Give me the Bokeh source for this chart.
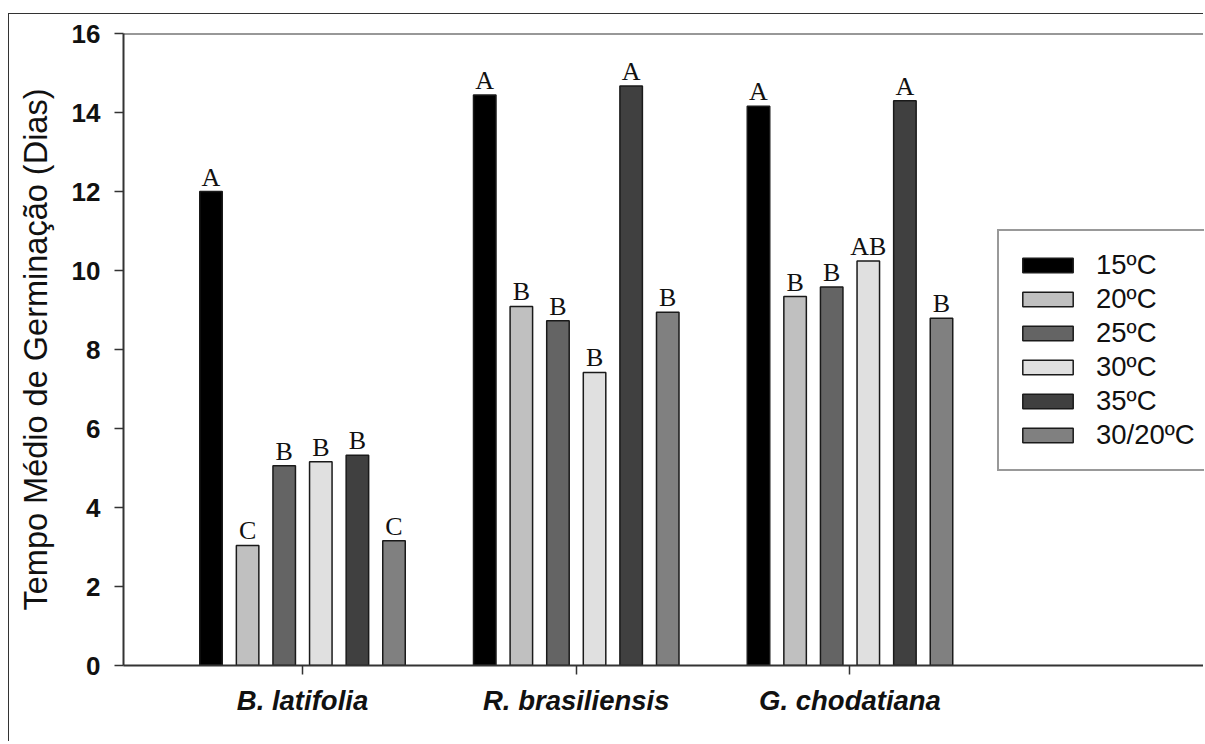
from bokeh.plotting import figure
from bokeh.models import ColumnDataSource, FixedTicker, Span, Legend, LegendItem, Range1d
from bokeh.embed import file_html
from bokeh.resources import INLINE
from bokeh.core.properties import value

# ---- data ----
species = ["B. latifolia", "R. brasiliensis", "G. chodatiana"]
temps = ["15ºC", "20ºC", "25ºC", "30ºC", "35ºC", "30/20ºC"]
t15 = [12.00, 14.44, 14.16]
t20 = [3.04, 9.09, 9.34]
t25 = [5.06, 8.73, 9.58]
t30 = [5.16, 7.42, 10.24]
t35 = [5.32, 14.67, 14.30]
t3020 = [3.16, 8.94, 8.79]
l15 = ["A", "A", "A"]
l20 = ["C", "B", "B"]
l25 = ["B", "B", "B"]
l30 = ["B", "B", "AB"]
l35 = ["B", "A", "A"]
l3020 = ["C", "B", "B"]
y_ticks = [0, 2, 4, 6, 8, 10, 12, 14, 16]

series = [t15, t20, t25, t30, t35, t3020]
letters = [l15, l20, l25, l30, l35, l3020]
colors = ["#000000", "#c0c0c0", "#646464", "#e0e0e0", "#404040", "#808080"]

SANS = "Liberation Sans"
SERIF = "Liberation Serif"
AX = "#333333"

p = figure(width=1195, height=728,
           x_range=Range1d(-0.6539, 3.2950), y_range=Range1d(0, 16),
           output_backend="svg", toolbar_location=None,
           min_border_left=114, min_border_top=19,
           min_border_bottom=77, min_border_right=0)
p.styles = {"margin-top": "13px", "margin-left": "8px",
            "border-left": "1px solid #333", "border-top": "1px solid #333"}
p.xgrid.visible = False
p.ygrid.visible = False
p.outline_line_color = None
p.background_fill_color = "white"
p.border_fill_color = "white"

step = 0.1337
bw = 0.0822
gx = list(range(len(species)))
renderers = []
for k, (vals, labs, col) in enumerate(zip(series, letters, colors)):
    xs = [g + (k - 2.5) * step for g in gx]
    src = ColumnDataSource(dict(x=xs, top=vals, lab=labs))
    r = p.vbar(x="x", top="top", width=bw, bottom=0, source=src,
               fill_color=col, line_color="#1a1a1a", line_width=1.5)
    renderers.append(r)
    p.text(x="x", y="top", text="lab", source=src,
           text_font=value(SERIF), text_font_size="26px",
           text_align="center", text_baseline="bottom",
           text_color="#111111")

# top line of frame
p.add_layout(Span(location=16, dimension="width", line_color=AX, line_width=2))

# y axis
yax = p.yaxis[0]
yax.ticker = FixedTicker(ticks=y_ticks)
yax.minor_tick_line_color = None
yax.major_tick_in = 0
yax.major_tick_out = 9
yax.major_tick_line_width = 1.5
yax.major_tick_line_color = AX
yax.axis_line_width = 2
yax.axis_line_color = AX
yax.major_label_text_font = SANS
yax.major_label_text_font_style = "bold"
yax.major_label_text_font_size = "26px"
yax.major_label_text_color = "#111111"
yax.major_label_standoff = 14
yax.axis_label = "Tempo Médio de Germinação (Dias)"
yax.axis_label_text_font = SANS
yax.axis_label_text_font_style = "normal"
yax.axis_label_text_font_size = "32.5px"
yax.axis_label_text_color = "#111111"
yax.axis_label_standoff = 15

# x axis
xax = p.xaxis[0]
xax.ticker = FixedTicker(ticks=gx)
xax.major_label_overrides = {g: s for g, s in zip(gx, species)}
xax.minor_tick_line_color = None
xax.major_tick_in = 0
xax.major_tick_out = 9
xax.major_tick_line_width = 1.5
xax.major_tick_line_color = AX
xax.axis_line_width = 2
xax.axis_line_color = AX
xax.major_label_text_font = SANS
xax.major_label_text_font_style = "bold italic"
xax.major_label_text_font_size = "27.5px"
xax.major_label_text_color = "#111111"
xax.major_label_standoff = 10

legend = Legend(items=[LegendItem(label=t, renderers=[r]) for t, r in zip(temps, renderers)],
                location=(874, 194))
legend.glyph_width = 63
legend.glyph_height = 18
legend.label_height = 34
legend.label_width = 200
legend.spacing = 0
legend.padding = 17
legend.margin = 0
legend.label_standoff = 17
legend.label_text_font = SANS
legend.label_text_font_size = "27.5px"
legend.label_text_color = "#111111"
legend.border_line_color = AX
legend.border_line_width = 2
legend.background_fill_alpha = 1
p.add_layout(legend)

open("out.html", "w").write(file_html(p, INLINE))
